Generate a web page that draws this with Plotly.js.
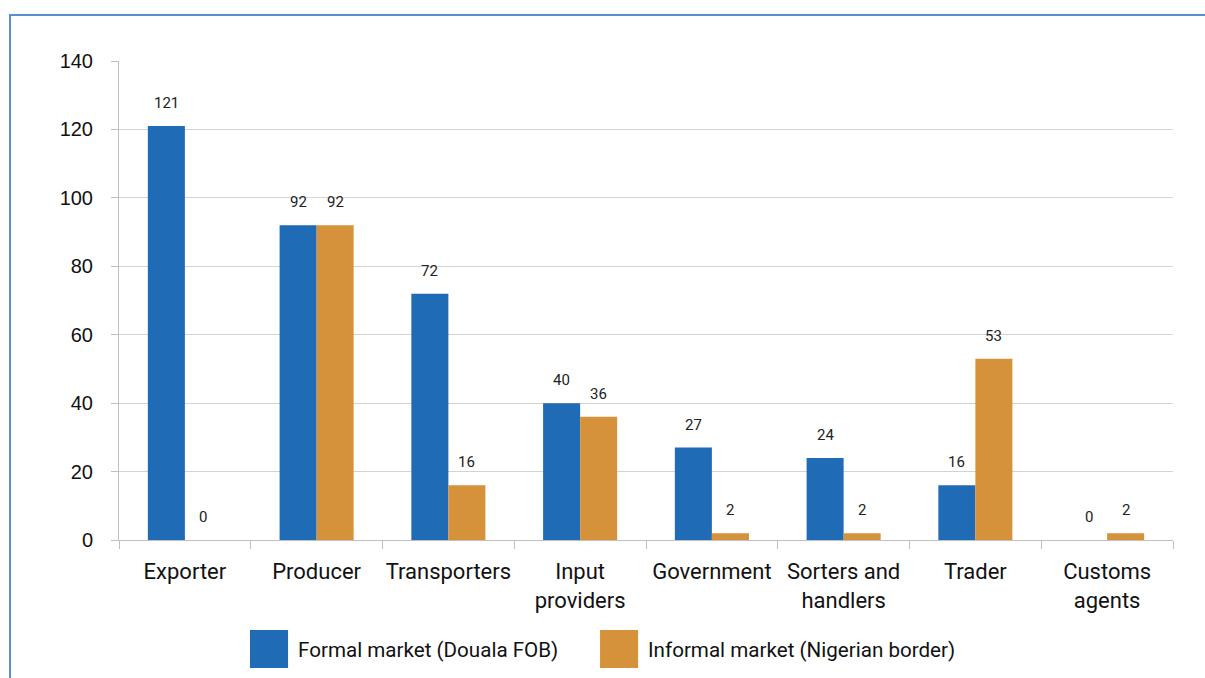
<!DOCTYPE html>
<html>
<head>
<meta charset="utf-8">
<script src="https://cdn.plot.ly/plotly-3.0.1.min.js"></script>
<style>
  html, body { margin: 0; padding: 0; background: #fff; }
  #wrap { position: relative; width: 1205px; height: 678px; overflow: hidden; }
  #chart { position: absolute; left: 0; top: 0; width: 1205px; height: 678px; }
  #frame { position: absolute; left: 9px; top: 14px; width: 1220px; height: 700px;
           border-top: 2px solid #5a8fce; border-left: 2px solid #5a8fce; pointer-events: none; }
</style>
</head>
<body>
<div id="wrap"><div id="chart"></div><div id="frame"></div></div>
<script>
const categories = ["Exporter", "Producer", "Transporters", "Input<br>providers", "Government",
                    "Sorters and<br>handlers", "Trader", "Customs<br>agents"];
const formalName = "Formal market (Douala FOB)";
const informalName = "Informal market (Nigerian border)";
const formalValues = [121, 92, 72, 40, 27, 24, 16, 0];
const informalValues = [0, 92, 16, 36, 2, 2, 53, 2];
const yTicks = [0, 20, 40, 60, 80, 100, 120, 140];

const blue = "#1F6BB5";
const orange = "#D6923A";
const narrow = "Roboto, 'Liberation Sans', sans-serif";
const regular = "'Liberation Sans', Arial, sans-serif";

const margin = {l: 119, r: 32, t: 61, b: 138};
const plotW = 1205 - margin.l - margin.r;
const bargap = 0.438;
const catW = plotW / categories.length;
const barW = catW * (1 - bargap) / 2;

const traces = [
  {type: "bar", x: categories, y: formalValues, name: formalName,
   marker: {color: blue}, showlegend: false, hoverinfo: "y"},
  {type: "bar", x: categories, y: informalValues, name: informalName,
   marker: {color: orange}, showlegend: false, hoverinfo: "y"}
];

const annotations = [];
[[formalValues, -barW / 2], [informalValues, barW / 2]].forEach(([vals, dx]) => {
  vals.forEach((v, i) => {
    annotations.push({x: categories[i], y: v, xref: "x", yref: "y", text: String(v),
      showarrow: false, xanchor: "center", yanchor: "bottom", xshift: dx, yshift: 12,
      font: {family: narrow, size: 15, color: "#222"}});
  });
});

// manual legend
const legendItems = [
  {name: formalName, color: blue, x0: 0.1243},
  {name: informalName, color: orange, x0: 0.4564}
];
const shapes = [];
legendItems.forEach(it => {
  shapes.push({type: "rect", xref: "paper", yref: "paper", x0: it.x0, x1: it.x0 + 0.0361,
    y0: -0.2672, y1: -0.1879, fillcolor: it.color, line: {width: 0}});
  annotations.push({xref: "paper", yref: "paper", x: it.x0 + 0.0436, y: -0.2296,
    xanchor: "left", yanchor: "middle", showarrow: false, text: it.name,
    font: {family: narrow, size: 20.6, color: "#111"}});
});

const layout = {
  width: 1205, height: 678, margin: margin,
  paper_bgcolor: "#fff", plot_bgcolor: "#fff",
  barmode: "group", bargap: bargap, bargroupgap: 0,
  showlegend: false,
  xaxis: {type: "category", showline: true, linecolor: "#bfbfbf", linewidth: 1,
    ticks: "outside", tickson: "boundaries", ticklen: 8, tickcolor: "#bfbfbf",
    showgrid: false, tickangle: 0, tickfont: {family: narrow, size: 22, color: "#111"},
    ticklabelstandoff: 12, fixedrange: true},
  yaxis: {range: [0, 140], tickvals: yTicks, ticktext: yTicks.map(String),
    showline: true, linecolor: "#bfbfbf", linewidth: 1,
    ticks: "outside", ticklen: 7, tickcolor: "#bfbfbf",
    showgrid: true, gridcolor: "#d3d3d3", gridwidth: 1, zeroline: false,
    tickfont: {family: regular, size: 20, color: "#111"},
    ticklabelstandoff: 14, fixedrange: true},
  annotations: annotations, shapes: shapes
};

Plotly.newPlot("chart", traces, layout, {displayModeBar: false, staticPlot: true});
</script>
</body>
</html>
